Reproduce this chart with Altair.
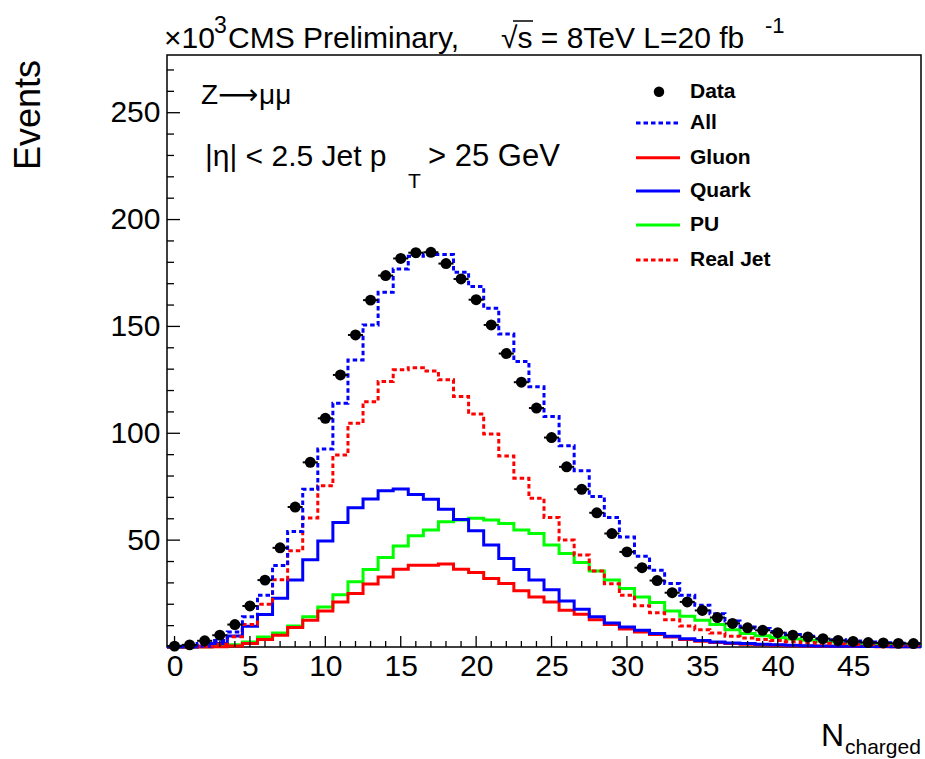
import altair as alt
import pandas as pd

# ---------------- data ----------------
bins = list(range(50))

data_vals = [0.4, 1.0, 2.9, 5.5, 10.5, 19.2, 31.3, 46.4, 65.5, 86.4,
             107.0, 127.3, 146.0, 162.3, 173.8, 181.8, 184.5, 184.7, 179.4, 172.2,
             162.5, 150.7, 137.3, 123.9, 111.8, 98.0, 84.3, 73.8, 62.8, 53.1,
             44.5, 37.1, 31.1, 25.4, 21.1, 17.1, 13.8, 11.0, 9.0, 7.8,
             6.7, 5.5, 4.7, 3.9, 3.1, 2.6, 2.1, 1.9, 1.7, 1.6]

all_vals = [0.1, 0.5, 1.6, 3.1, 7.0, 14.1, 24.2, 38.1, 54.1, 73.8,
            92.6, 114.0, 134.3, 150.7, 166.0, 176.9, 182.8, 183.6, 183.6, 175.3,
            168.7, 158.5, 146.4, 133.6, 121.8, 107.8, 94.2, 82.5, 70.4, 60.6,
            51.5, 42.5, 35.9, 29.7, 24.2, 19.5, 15.6, 12.2, 9.4, 8.6,
            7.3, 5.9, 5.0, 3.9, 3.4, 2.8, 2.3, 2.0, 1.8, 1.6]

gluon_vals = [0.0, 0.0, 0.0, 0.1, 0.5, 1.6, 3.5, 5.5, 9.1, 12.5,
              16.9, 21.1, 25.0, 29.5, 32.8, 36.4, 38.3, 38.3, 38.8, 36.4,
              34.9, 32.0, 29.7, 26.3, 23.4, 21.1, 17.2, 15.3, 12.8, 10.5,
              8.4, 7.0, 5.8, 4.7, 3.5, 2.7, 2.1, 1.6, 1.3, 1.0,
              0.8, 0.6, 0.5, 0.4, 0.3, 0.25, 0.2, 0.15, 0.1, 0.1]

quark_vals = [0.0, 0.0, 0.3, 1.6, 5.2, 9.7, 15.2, 22.8, 31.3, 40.8,
              49.6, 58.3, 65.1, 69.2, 73.1, 73.9, 71.4, 69.1, 64.4, 59.7,
              54.4, 47.7, 41.4, 36.3, 31.3, 26.8, 21.5, 17.7, 14.1, 11.2,
              9.4, 7.8, 6.3, 5.0, 3.9, 3.1, 2.3, 1.9, 1.6, 1.3,
              1.0, 0.8, 0.6, 0.5, 0.4, 0.3, 0.25, 0.2, 0.15, 0.1]

pu_vals = [0.0, 0.0, 0.1, 0.3, 1.1, 2.3, 4.7, 6.6, 9.8, 14.1,
           18.7, 24.5, 30.5, 36.3, 41.9, 47.3, 52.0, 54.7, 58.6, 59.4,
           60.2, 59.4, 57.8, 54.7, 53.1, 47.7, 43.8, 39.5, 35.6, 31.3,
           27.4, 23.4, 20.8, 16.9, 14.4, 12.5, 10.5, 8.1, 6.3, 5.3,
           4.5, 3.8, 3.2, 2.7, 2.3, 1.9, 1.6, 1.4, 1.2, 1.0]

realjet_vals = [0.0, 0.1, 0.4, 1.3, 4.8, 10.5, 20.0, 31.5, 45.0, 60.4,
                75.4, 89.8, 104.7, 114.8, 124.2, 129.7, 130.7, 129.2, 125.0, 117.2,
                109.0, 99.7, 89.4, 79.0, 69.6, 60.6, 50.1, 43.0, 35.6, 29.6,
                24.2, 19.3, 16.0, 12.8, 9.8, 8.1, 6.5, 5.0, 4.2, 3.5,
                3.0, 2.5, 2.1, 1.8, 1.5, 1.2, 1.0, 0.9, 0.8, 0.7]

x_tick_labels = [0, 5, 10, 15, 20, 25, 30, 35, 40, 45]
x_minor_ticks = list(range(0, 50))
y_tick_labels = [50, 100, 150, 200, 250]
y_minor_ticks = list(range(10, 280, 10))

legend_names = ["Data", "All", "Gluon", "Quark", "PU", "Real Jet"]

# ---------------- layout ----------------
L, T = 167, 55          # plot-area origin in page pixels
W, H = 754, 592
FONT = "Liberation Sans"

xscale = alt.Scale(domain=[-0.5, 49.5], nice=False, zero=False)
yscale = alt.Scale(domain=[0, 277], nice=False, zero=False)

xaxis = alt.Axis(values=x_tick_labels, format="d", labelFont=FONT, labelFontSize=30,
                 labelColor="black", tickSize=0, domain=False, grid=False,
                 labelPadding=4, labelFlush=False, labelOverlap=False, title=None)
yaxis = alt.Axis(values=y_tick_labels, format="d", labelFont=FONT, labelFontSize=30,
                 labelColor="black", tickSize=0, domain=False, grid=False,
                 labelPadding=7, labelOverlap=False, title=None)


def step_df(vals):
    xs = [b - 0.5 for b in bins] + [bins[-1] + 0.5]
    ys = list(vals) + [vals[-1]]
    return pd.DataFrame({"x": xs, "y": ys})


def hist_layer(vals, color, dash=None):
    kw = dict(interpolate="step-after", color=color, strokeWidth=3)
    if dash:
        kw["strokeDash"] = dash
    return alt.Chart(step_df(vals)).mark_line(**kw).encode(
        x=alt.X("x:Q", scale=xscale, axis=xaxis),
        y=alt.Y("y:Q", scale=yscale, axis=yaxis),
    )


DOT = [4.5, 3]
layers = [
    hist_layer(pu_vals, "#00ff00"),
    hist_layer(gluon_vals, "#ff0000"),
    hist_layer(quark_vals, "#0000ff"),
    hist_layer(realjet_vals, "#ff0000", DOT),
    hist_layer(all_vals, "#0000ff", DOT),
]

dfd = pd.DataFrame({"x": bins, "y": data_vals})
dfd["xl"] = dfd["x"] - 0.5
dfd["xr"] = dfd["x"] + 0.5
layers.append(alt.Chart(dfd).mark_rule(color="black", strokeWidth=2).encode(
    x=alt.X("xl:Q", scale=xscale, axis=xaxis), x2="xr:Q",
    y=alt.Y("y:Q", scale=yscale, axis=yaxis)))
layers.append(alt.Chart(dfd).mark_circle(color="black", size=120, opacity=1).encode(
    x=alt.X("x:Q", scale=xscale, axis=xaxis),
    y=alt.Y("y:Q", scale=yscale, axis=yaxis)))

# inward ticks (ROOT style)
xt = pd.DataFrame({"t": x_minor_ticks})
xt["len"] = [11 if t % 5 == 0 else 6 for t in x_minor_ticks]
for length in (11, 6):
    sub = xt[xt["len"] == length]
    layers.append(alt.Chart(sub).mark_rule(color="black", strokeWidth=1.3).encode(
        x=alt.X("t:Q", scale=xscale, axis=xaxis),
        y=alt.value(H), y2=alt.value(H - length)))
yt = pd.DataFrame({"t": y_minor_ticks})
for major in (True, False):
    sub = yt[(yt["t"] % 50 == 0) == major]
    length = 13 if major else 7
    layers.append(alt.Chart(sub).mark_rule(color="black", strokeWidth=1.3).encode(
        y=alt.Y("t:Q", scale=yscale, axis=yaxis),
        x=alt.value(0), x2=alt.value(length)))


def txt(s, x, y, size, weight="normal", align="left", angle=0, baseline="alphabetic", font=FONT):
    kw = dict(text=s, fontSize=size, font=font, fontWeight=weight, align=align,
              baseline=baseline, color="black")
    if angle:
        kw["angle"] = angle
    return alt.Chart(alt.Data(values=[{}])).mark_text(**kw).encode(
        x=alt.value(x - L), y=alt.value(y - T))


# title pieces
layers += [
    txt("×10", 164, 48, 30),
    txt("3", 214, 33, 23),
    txt("CMS Preliminary,", 228, 48, 30),
    txt("√s = 8TeV L=20 fb", 501, 48, 30),
    txt("-1", 765, 33, 22),
]
layers.append(alt.Chart(alt.Data(values=[{}])).mark_rule(color="black", strokeWidth=1.5).encode(
    x=alt.value(513 - L), x2=alt.value(533 - L), y=alt.value(21 - T)))

# in-plot annotations
layers += [
    txt("Z", 201, 104, 28),
    txt("⟶", 218, 104, 28, font="DejaVu Sans"),
    txt("μμ", 259, 104, 28),
    txt("|η| < 2.5 Jet p", 205, 166, 30),
    txt("T", 408, 188, 21),
    txt("> 25 GeV", 428, 166, 31),
]

# axis titles
layers += [
    txt("Events", 40, 60, 36, align="right", angle=270),
    txt("N", 821, 746, 32),
    txt("charged", 845, 754, 21),
]

# legend
leg_y = [91.7, 123, 157.7, 191, 225, 260]
leg_style = {
    "All": ("#0000ff", DOT),
    "Gluon": ("#ff0000", None),
    "Quark": ("#0000ff", None),
    "PU": ("#00ff00", None),
    "Real Jet": ("#ff0000", DOT),
}
for name, yy in zip(legend_names, leg_y):
    if name == "Data":
        layers.append(alt.Chart(alt.Data(values=[{}])).mark_circle(color="black", size=110, opacity=1).encode(
            x=alt.value(659 - L), y=alt.value(yy - T)))
    else:
        col, dash = leg_style[name]
        kw = dict(color=col, strokeWidth=3)
        if dash:
            kw["strokeDash"] = dash
        layers.append(alt.Chart(alt.Data(values=[{}])).mark_rule(**kw).encode(
            x=alt.value(636 - L), x2=alt.value(680 - L), y=alt.value(yy - T)))
    layers.append(txt(name, 690, yy, 21, weight="bold", baseline="middle"))

chart = alt.layer(*layers).properties(
    width=W, height=H,
    autosize=alt.AutoSizeParams(type="none"),
    padding={"left": L, "top": T, "right": 925 - L - W, "bottom": 759 - T - H},
    background="white",
).configure_view(stroke="black", strokeWidth=1.5)

chart.save("out.html", embed_options={"renderer": "svg", "actions": False})
